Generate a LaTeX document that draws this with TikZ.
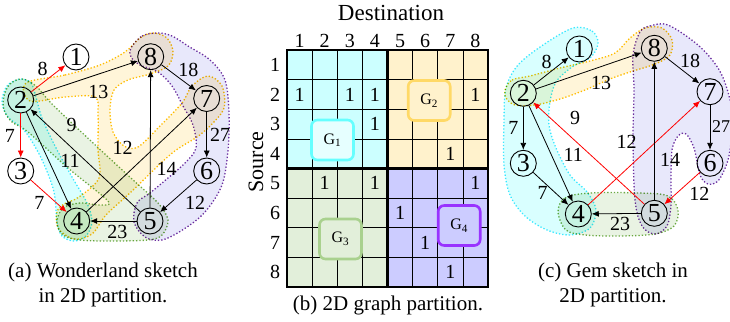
\documentclass[tikz,border=0pt]{standalone}
\usepackage{fontspec}
\setmainfont{Liberation Serif}
\usepackage{tikz}
\usetikzlibrary{arrows.meta}
\usepackage{xcolor}

\definecolor{cyanfill}{HTML}{CCFFFF}
\definecolor{cyanline}{HTML}{40E8FF}
\definecolor{yelfill}{HTML}{FFF2CC}
\definecolor{yelline}{HTML}{FFC000}
\definecolor{grnfill}{HTML}{E2EFDA}
\definecolor{grnline}{HTML}{70AD47}
\definecolor{purfill}{HTML}{E0E0FA}
\definecolor{purline}{HTML}{7030A0}
\definecolor{gfourfill}{HTML}{CCCCFF}
\definecolor{gonebox}{HTML}{66FFFF}
\definecolor{gtwobox}{HTML}{FFD966}
\definecolor{gthreebox}{HTML}{A9D18E}
\definecolor{gfourbox}{HTML}{9933FF}

\begin{document}
\begin{tikzpicture}[x=1pt, y=-1pt,
    vertex/.style={draw, circle, line width=0.9pt, minimum size=26pt, inner sep=0pt, font=\fontsize{26}{26}\selectfont},
    link/.style={-{Latex[length=7pt,width=6pt]}, line width=0.8pt},
    redlink/.style={link, red},
    wt/.style={inner sep=0pt, font=\fontsize{20}{20}\selectfont},
    hull/.style={dotted, line width=1.3pt, fill opacity=0.75},
    cell/.style={inner sep=0pt, font=\fontsize{20}{20}\selectfont},
    gbox/.style={rounded corners=6pt, line width=2.6pt, minimum width=42pt, minimum height=40pt, font=\fontsize{16}{16}\selectfont},
    caption/.style={align=center, font=\fontsize{21}{25}\selectfont}]
    \useasboundingbox (0,0) rectangle (730,321);

    % hulls
    \begin{scope}[blend mode=multiply]
    \draw[hull, draw=purline, fill=purfill] plot[smooth cycle, tension=0.55] coordinates {(131,48) (142,36) (158,33) (172,36) (188,46) (210,60) (225,80) (229,113) (228,150) (222,185) (205,212) (184,229) (162,240) (145,237) (134,222) (137,203) (150,193) (168,178) (185,163) (196,148) (193,125) (183,106) (172,86) (158,72) (140,65) (131,57)};
    \draw[hull, draw=yelline, fill=yelfill] plot[smooth cycle, tension=0.55] coordinates {(26,83) (65,75) (100,65) (125,52) (140,38) (153,33) (167,38) (173,52) (168,66) (150,74) (128,80) (114,90) (110,110) (113,132) (124,146) (138,147) (160,126) (182,103) (192,86) (208,76) (222,86) (224,108) (212,124) (197,137) (171,154) (131,192) (106,215) (92,234) (74,239) (58,228) (57,212) (64,204) (79,197) (99,178) (98,150) (98,115) (95,97) (65,97) (30,101)};
    \draw[hull, draw=grnline, fill=grnfill] plot[smooth cycle, tension=0.55] coordinates {(4,96) (10,84) (22,79) (36,86) (52,104) (92,142) (132,179) (158,203) (168,220) (162,235) (148,240) (110,241) (80,240) (63,235) (57,222) (63,208) (80,203) (100,205) (108,201) (68,168) (28,132) (12,122) (4,110)};
    \draw[hull, draw=cyanline, fill=cyanfill] plot[smooth cycle, tension=0.55] coordinates {(20,79) (31,83) (36,97) (42,118) (55,146) (72,177) (87,203) (92,222) (86,236) (74,241) (62,236) (57,222) (54,192) (43,162) (31,140) (22,128) (8,117) (2,102) (7,86)};

    \draw[hull, draw=purline, fill=purfill] plot[smooth cycle, tension=0.55] coordinates {(640,32) (650,26) (668,25) (698,45) (718,68) (728,92) (733,120) (730,150) (726,166) (718,181) (708,184) (700,175) (694,148) (686,134) (678,136) (672,150) (671,180) (671,205) (667,226) (655,234) (642,226) (635,200) (633,140) (634,90) (633,55)};
    \draw[hull, draw=cyanline, fill=cyanfill] plot[smooth cycle, tension=0.55] coordinates {(573,28) (592,31) (598,43) (591,57) (572,67) (556,82) (550,102) (549,125) (556,148) (570,175) (587,192) (596,210) (590,228) (570,235) (547,230) (525,216) (510,195) (504,165) (504,120) (506,88) (518,65) (543,45)};
    \draw[hull, draw=yelline, fill=yelfill] plot[smooth cycle, tension=0.55] coordinates {(505,90) (512,80) (530,76) (560,68) (590,61) (615,53) (630,38) (645,28) (662,28) (672,40) (670,55) (655,64) (630,72) (610,79) (585,90) (560,99) (535,105) (515,105) (506,98)};
    \draw[hull, draw=grnline, fill=grnfill] plot[smooth cycle, tension=0.55] coordinates {(558,212) (565,198) (590,193) (640,193) (668,196) (678,210) (674,226) (655,234) (620,236) (585,235) (566,230)};
    \end{scope}

    % Wonderland sketch
    \node[vertex] (l1) at (76,57) {1};
    \node[vertex] (l2) at (20.7,100) {2};
    \node[vertex] (l3) at (20.7,171) {3};
    \node[vertex] (l4) at (76.7,221) {4};
    \node[vertex] (l5) at (150,221) {5};
    \node[vertex] (l6) at (206.7,171) {6};
    \node[vertex] (l7) at (206.7,98.5) {7};
    \node[vertex] (l8) at (150.7,56.7) {8};
    \draw[redlink] (l2) -- (l1);
    \draw[link] (l2) -- (l8);
    \draw[link] (l8) -- (l7);
    \draw[redlink] (l2) -- (l3);
    \draw[link] (l5) -- (l2);
    \draw[link] (l2) -- (l4);
    \draw[link] (l4) -- (l7);
    \draw[link] (l7) -- (l6);
    \draw[link] (l5) -- (l8);
    \draw[link] (l6) -- (l5);
    \draw[redlink] (l3) -- (l4);
    \draw[link] (l5) -- (l4);
    \node[wt] (lw21) at (42.7,69.3) {8};
    \node[wt] (lw28) at (98.3,91.7) {13};
    \node[wt] (lw87) at (188.3,70) {18};
    \node[wt] (lw23) at (10,136) {7};
    \node[wt] (lw52) at (71.7,125) {9};
    \node[wt] (lw24) at (70,161) {11};
    \node[wt] (lw47) at (122.7,148.3) {12};
    \node[wt] (lw76) at (220,135) {27};
    \node[wt] (lw58) at (166.7,169.3) {14};
    \node[wt] (lw65) at (195,203.3) {12};
    \node[wt] (lw34) at (39.3,203.3) {7};
    \node[wt] (lw54) at (117.3,231.7) {23};
    \node[caption] (capa) at (103,284.5) {(a) Wonderland sketch\\in 2D partition.};

    % 2D partition
    \fill[cyanfill] (287,50) rectangle (387.5,168.5);
    \fill[yelfill] (387.5,50) rectangle (488,168.5);
    \fill[grnfill] (287,168.5) rectangle (387.5,287);
    \fill[gfourfill] (387.5,168.5) rectangle (488,287);
    \foreach \i in {1,...,7} {
        \draw[line width=0.6pt] ({287+\i*25.125},50) -- ({287+\i*25.125},287);
        \draw[line width=0.6pt] (287,{50+\i*29.625}) -- (488,{50+\i*29.625});
    }
    \draw[line width=2.6pt] (287,50) rectangle (488,287);
    \draw[line width=2.6pt] (387.5,50) -- (387.5,287) (287,168.5) -- (488,168.5);
    \foreach \i in {1,...,8} {
        \node[inner sep=0pt, font=\fontsize{20}{20}\selectfont] (dst\i) at ({287+(\i-0.5)*25.125},41) {\i};
        \node[inner sep=0pt, font=\fontsize{20}{20}\selectfont] (src\i) at (275,{50+(\i-0.5)*29.625}) {\i};
    }
    \foreach \r/\c in {2/1,2/3,2/4,2/8,3/4,4/7,5/2,5/4,5/8,6/5,7/6,8/7}
        \node[cell] (e\r\c) at ({287+(\c-0.5)*25.125},{50+(\r-0.5)*29.625}) {1};
    \node[gbox, draw=gonebox, fill=cyanfill!50!white] (g1) at (332.5,140) {G\textsubscript{1}};
    \node[gbox, draw=gtwobox, fill=yelfill] (g2) at (429.2,100.5) {G\textsubscript{2}};
    \node[gbox, draw=gthreebox, fill=grnfill] (g3) at (340.5,239) {G\textsubscript{3}};
    \node[gbox, draw=gfourbox, fill=gfourfill] (g4) at (459.2,225.5) {G\textsubscript{4}};
    \node[font=\fontsize{23}{23}\selectfont] (dest) at (391,13) {Destination};
    \node[rotate=90, font=\fontsize{22}{22}\selectfont] (source) at (256,162) {Source};
    \node[caption] (capb) at (388,305) {(b) 2D graph partition.};

    % Gem sketch
    \node[vertex] (r1) at (579.3,49) {1};
    \node[vertex] (r2) at (523.3,93.3) {2};
    \node[vertex] (r3) at (523.3,163.3) {3};
    \node[vertex] (r4) at (578.3,214) {4};
    \node[vertex] (r5) at (654.3,213.3) {5};
    \node[vertex] (r6) at (710,163.3) {6};
    \node[vertex] (r7) at (710,91.7) {7};
    \node[vertex] (r8) at (654.3,48.3) {8};
    \draw[link] (r2) -- (r1);
    \draw[link] (r2) -- (r8);
    \draw[link] (r8) -- (r7);
    \draw[link] (r2) -- (r3);
    \draw[redlink] (r5) -- (r2);
    \draw[link] (r2) -- (r4);
    \draw[redlink] (r4) -- (r7);
    \draw[link] (r7) -- (r6);
    \draw[link] (r5) -- (r8);
    \draw[redlink] (r6) -- (r5);
    \draw[link] (r3) -- (r4);
    \draw[link] (r5) -- (r4);
    \node[wt] (rw21) at (546.7,61.7) {8};
    \node[wt] (rw28) at (601,83.3) {13};
    \node[wt] (rw87) at (690,60.7) {18};
    \node[wt] (rw23) at (513.3,128.3) {7};
    \node[wt] (rw52) at (575,118.3) {9};
    \node[wt] (rw24) at (573.3,155) {11};
    \node[wt] (rw47) at (626.7,141.7) {12};
    \node[wt, font=\fontsize{18}{18}\selectfont] (rw76) at (721,126.7) {27};
    \node[wt] (rw58) at (670,160) {14};
    \node[wt] (rw65) at (699.3,194) {12};
    \node[wt] (rw34) at (542.7,192.7) {7};
    \node[wt] (rw54) at (620,224.3) {23};
    \node[caption] (capc) at (613,284.5) {(c) Gem sketch in\\2D partition.};
\end{tikzpicture}
\end{document}
